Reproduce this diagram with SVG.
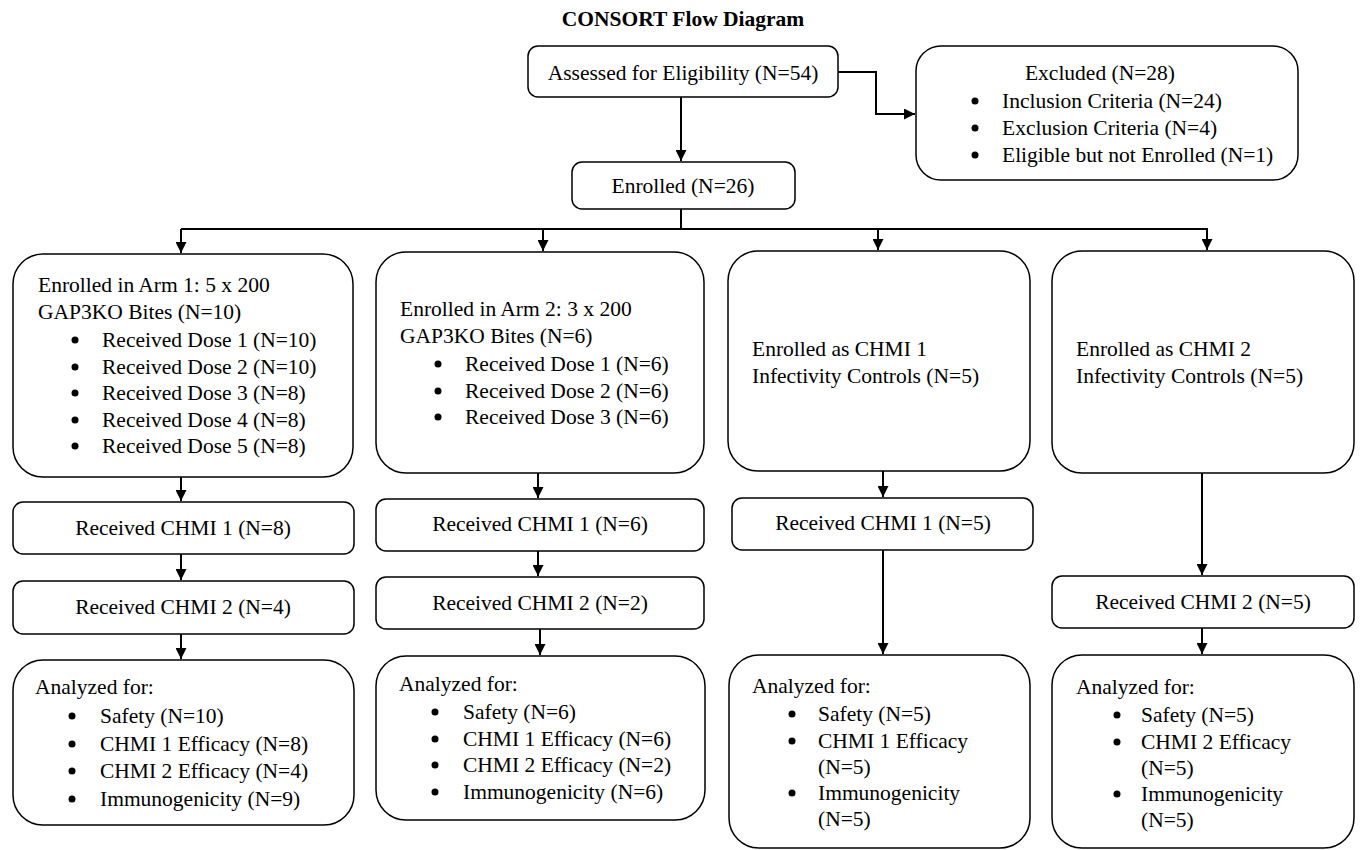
<svg xmlns="http://www.w3.org/2000/svg" width="1360" height="850" viewBox="0 0 1360 850">
<defs>
<marker id="arr" markerUnits="userSpaceOnUse" markerWidth="11" markerHeight="11" refX="10" refY="5" orient="auto" viewBox="0 0 10 10">
<path d="M0,0 L10,5 L0,10 z" fill="#000"/>
</marker>
</defs>
<style>
rect{fill:#fff;stroke:#000;stroke-width:1.5}
text{font-family:"Liberation Serif","Times New Roman",serif;font-size:21.5px;fill:#000}
.c{text-anchor:middle}
.t{font-weight:bold}
circle{fill:#000}
.conn path{fill:none;stroke:#000;stroke-width:2}
.conn .a{marker-end:url(#arr)}
</style>
<rect x="0" y="0" width="1360" height="850" style="stroke:none"/>
<text class="c t" x="683" y="26">CONSORT Flow Diagram</text>

<g class="conn">
<path class="a" d="M681,97 L681,161"/>
<path class="a" d="M838,72 L876,72 L876,114 L915,114"/>
<path d="M681,209 L681,229"/>
<path d="M181,229 L1208,229"/>
<path class="a" d="M181,229 L181,253"/>
<path class="a" d="M543,229 L543,251"/>
<path class="a" d="M878,229 L878,250"/>
<path class="a" d="M1207,229 L1207,250"/>
<path class="a" d="M181,477 L181,501"/>
<path class="a" d="M181,554 L181,580"/>
<path class="a" d="M181,634 L181,659"/>
<path class="a" d="M538,473 L538,498"/>
<path class="a" d="M538,551 L538,576"/>
<path class="a" d="M540,629 L540,655"/>
<path class="a" d="M883,471 L883,497"/>
<path class="a" d="M883,550 L883,654"/>
<path class="a" d="M1202,473 L1202,575"/>
<path class="a" d="M1202,628 L1202,654"/>
</g>

<g id="assessed">
<rect x="528" y="46" width="310" height="51" rx="10"/>
<text class="c" x="683" y="80">Assessed for Eligibility (N=54)</text>
</g>
<g id="excluded">
<rect x="916" y="46" width="382" height="134" rx="25"/>
<text class="c" x="1100" y="80">Excluded (N=28)</text>
<circle cx="975" cy="101" r="3.5"/><text x="1002" y="108">Inclusion Criteria (N=24)</text>
<circle cx="975" cy="128" r="3.5"/><text x="1002" y="135">Exclusion Criteria (N=4)</text>
<circle cx="975" cy="155" r="3.5"/><text x="1002" y="162">Eligible but not Enrolled (N=1)</text>
</g>
<g id="enrolled">
<rect x="572" y="162" width="223" height="47" rx="10"/>
<text class="c" x="683" y="193">Enrolled (N=26)</text>
</g>

<g id="arm1">
<rect x="13" y="254" width="340" height="223" rx="30"/>
<text x="38" y="292">Enrolled in Arm 1: 5 x 200</text>
<text x="38" y="319">GAP3KO Bites (N=10)</text>
<circle cx="75" cy="340" r="3.5"/><text x="102" y="347">Received Dose 1 (N=10)</text>
<circle cx="75" cy="367" r="3.5"/><text x="102" y="374">Received Dose 2 (N=10)</text>
<circle cx="75" cy="393" r="3.5"/><text x="102" y="400">Received Dose 3 (N=8)</text>
<circle cx="75" cy="420" r="3.5"/><text x="102" y="427">Received Dose 4 (N=8)</text>
<circle cx="75" cy="446" r="3.5"/><text x="102" y="453">Received Dose 5 (N=8)</text>
</g>
<g id="arm2">
<rect x="376" y="252" width="328" height="221" rx="30"/>
<text x="400" y="316">Enrolled in Arm 2: 3 x 200</text>
<text x="400" y="343">GAP3KO Bites (N=6)</text>
<circle cx="438" cy="364" r="3.5"/><text x="465" y="371">Received Dose 1 (N=6)</text>
<circle cx="438" cy="391" r="3.5"/><text x="465" y="398">Received Dose 2 (N=6)</text>
<circle cx="438" cy="417" r="3.5"/><text x="465" y="424">Received Dose 3 (N=6)</text>
</g>
<g id="ctrl1">
<rect x="728" y="251" width="302" height="220" rx="30"/>
<text x="752" y="356">Enrolled as CHMI 1</text>
<text x="752" y="383">Infectivity Controls (N=5)</text>
</g>
<g id="ctrl2">
<rect x="1052" y="251" width="302" height="222" rx="30"/>
<text x="1076" y="356">Enrolled as CHMI 2</text>
<text x="1076" y="383">Infectivity Controls (N=5)</text>
</g>

<g id="arm1-chmi1">
<rect x="13" y="502" width="341" height="52" rx="10"/>
<text class="c" x="183" y="535">Received CHMI 1 (N=8)</text>
</g>
<g id="arm1-chmi2">
<rect x="13" y="581" width="341" height="53" rx="10"/>
<text class="c" x="183" y="614">Received CHMI 2 (N=4)</text>
</g>
<g id="arm1-analyzed">
<rect x="13" y="660" width="341" height="165" rx="30"/>
<text x="35" y="694">Analyzed for:</text>
<circle cx="72" cy="716" r="3.5"/><text x="100" y="723">Safety (N=10)</text>
<circle cx="72" cy="744" r="3.5"/><text x="100" y="751">CHMI 1 Efficacy (N=8)</text>
<circle cx="72" cy="771" r="3.5"/><text x="100" y="778">CHMI 2 Efficacy (N=4)</text>
<circle cx="72" cy="799" r="3.5"/><text x="100" y="806">Immunogenicity (N=9)</text>
</g>

<g id="arm2-chmi1">
<rect x="376" y="499" width="328" height="52" rx="10"/>
<text class="c" x="540" y="531">Received CHMI 1 (N=6)</text>
</g>
<g id="arm2-chmi2">
<rect x="376" y="577" width="328" height="52" rx="10"/>
<text class="c" x="540" y="610">Received CHMI 2 (N=2)</text>
</g>
<g id="arm2-analyzed">
<rect x="376" y="656" width="329" height="164" rx="30"/>
<text x="399" y="691">Analyzed for:</text>
<circle cx="435" cy="712" r="3.5"/><text x="463" y="719">Safety (N=6)</text>
<circle cx="435" cy="739" r="3.5"/><text x="463" y="746">CHMI 1 Efficacy (N=6)</text>
<circle cx="435" cy="765" r="3.5"/><text x="463" y="772">CHMI 2 Efficacy (N=2)</text>
<circle cx="435" cy="792" r="3.5"/><text x="463" y="799">Immunogenicity (N=6)</text>
</g>

<g id="ctrl1-chmi1">
<rect x="732" y="498" width="301" height="52" rx="10"/>
<text class="c" x="883" y="530">Received CHMI 1 (N=5)</text>
</g>
<g id="ctrl1-analyzed">
<rect x="729" y="655" width="301" height="193" rx="30"/>
<text x="752" y="693">Analyzed for:</text>
<circle cx="792" cy="714" r="3.5"/><text x="818" y="721">Safety (N=5)</text>
<circle cx="792" cy="741" r="3.5"/><text x="818" y="748">CHMI 1 Efficacy</text>
<text x="818" y="774">(N=5)</text>
<circle cx="792" cy="793" r="3.5"/><text x="818" y="800">Immunogenicity</text>
<text x="818" y="826">(N=5)</text>
</g>

<g id="ctrl2-chmi2">
<rect x="1052" y="576" width="302" height="52" rx="10"/>
<text class="c" x="1203" y="609">Received CHMI 2 (N=5)</text>
</g>
<g id="ctrl2-analyzed">
<rect x="1052" y="655" width="302" height="193" rx="30"/>
<text x="1076" y="694">Analyzed for:</text>
<circle cx="1117" cy="715" r="3.5"/><text x="1141" y="722">Safety (N=5)</text>
<circle cx="1117" cy="742" r="3.5"/><text x="1141" y="749">CHMI 2 Efficacy</text>
<text x="1141" y="775">(N=5)</text>
<circle cx="1117" cy="794" r="3.5"/><text x="1141" y="801">Immunogenicity</text>
<text x="1141" y="827">(N=5)</text>
</g>
</svg>
